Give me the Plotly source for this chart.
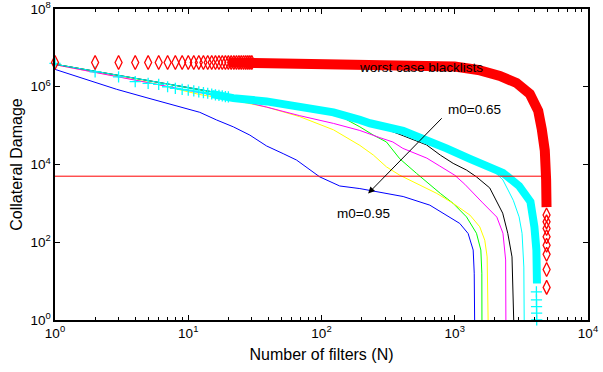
import plotly.graph_objects as go
import math

# ---------------- data ----------------
# worst case blacklists (red open diamonds)
worst_low_n = [1, 2, 3, 4, 5, 6, 7, 8, 9, 10, 11, 12, 13, 14, 15, 16, 17, 18, 19, 20,
               21, 22, 23, 24, 25, 26, 27, 28, 29, 30]
worst_low_v = [4.2e6, 4.2e6, 4.2e6, 4.2e6, 4.2e6, 4.2e6, 4.2e6, 4.2e6, 4.2e6, 4.2e6,
               4.2e6, 4.2e6, 4.2e6, 4.2e6, 4.2e6, 4.2e6, 4.2e6, 4.2e6, 4.2e6, 4.2e6,
               4.2e6, 4.2e6, 4.2e6, 4.2e6, 4.2e6, 4.2e6, 4.2e6, 4.2e6, 4.2e6, 4.2e6]
worst_band_n = [20, 50, 100, 200, 500, 1000, 1225, 1500, 2180, 2910, 3660, 4230, 4500,
                4740, 4850, 4880, 4885]
worst_band_v = [4.2e6, 4.1e6, 4.0e6, 3.9e6, 3.7e6, 3.3e6, 3.0e6, 2.7e6, 1.9e6, 1.25e6,
                6.5e5, 2.4e5, 8.0e4, 2.3e4, 4.0e3, 1.5e3, 800]
worst_tail_n = [4886, 4887, 4888, 4889, 4890, 4891, 4892, 4893]
worst_tail_v = [500, 335, 226, 138, 84, 49, 20, 6.9]

# cyan "+" series
plus_low_n = [1, 2, 3, 4, 5, 6, 7, 8, 9, 10, 11, 12, 13, 14, 15, 16, 17, 18, 19, 20]
plus_low_v = [4.0e6, 2.4e6, 1.8e6, 1.35e6, 1.22e6, 1.15e6, 1.0e6, 9.1e5, 8.6e5, 8.2e5,
              7.8e5, 7.4e5, 7.1e5, 6.8e5, 6.5e5, 6.2e5, 6.0e5, 5.8e5, 5.6e5, 5.5e5]
plus_band_n = [15, 21.8, 38.7, 68.7, 123, 194, 231, 410, 734, 867, 1300, 1730, 2300,
               3040, 3700, 3960, 4100, 4140]
plus_band_v = [6.5e5, 5.1e5, 4.2e5, 3.2e5, 2.2e5, 1.4e5, 1.15e5, 7.3e4, 3.4e4, 2.6e4,
               1.4e4, 9.7e3, 6.1e3, 2.8e3, 1.1e3, 250, 63, 8.7]
plus_tail_n = [4100, 4105, 4110, 4115, 4120]
plus_tail_v = [5.3, 3.3, 2.2, 1.5, 1.0]

# thin curves
cyan_n = [1, 20, 39, 69, 123, 194, 231, 410, 867, 1300, 1730, 2300, 2750, 3040, 3200, 3300, 3320]
cyan_v = [3.8e6, 6.5e5, 4.2e5, 3.2e5, 2.2e5, 1.4e5, 1.15e5, 7.3e4, 2.6e4, 1.4e4, 1.03e4,
          4.0e3, 1.2e3, 450, 170, 23, 1]

black_n = [1, 20, 39, 69, 123, 194, 260, 410, 614, 780, 973, 1225, 1456, 1830, 2290,
           2500, 2690, 2770]
black_v = [3.8e6, 6.3e5, 4.0e5, 3.0e5, 2.0e5, 1.3e5, 1.0e5, 5.5e4, 3.2e4, 1.74e4,
           1.07e4, 7.2e3, 4.8e3, 2.5e3, 560, 170, 42, 1]

magenta_n = [1, 5, 12.2, 21.8, 38.7, 68.7, 123, 194, 274, 343, 408, 617, 773, 1000,
             1190, 1415, 1600, 2070, 2300, 2410, 2420]
magenta_v = [3.7e6, 1.3e6, 7.0e5, 4.8e5, 3.0e5, 1.8e5, 1.14e5, 7.5e4, 4.9e4, 3.8e4,
             2.6e4, 1.46e4, 9.1e3, 5.3e3, 3.1e3, 1.73e3, 1.08e3, 443, 171, 35, 1]

green_n = [1, 20, 39, 69, 123, 150, 194, 245, 307, 387, 517, 650, 780, 973, 1225,
           1456, 1570, 1597, 1600]
green_v = [3.8e6, 6.2e5, 4.0e5, 2.9e5, 1.9e5, 1.5e5, 9.3e4, 5.7e4, 3.8e4, 1.4e4,
           5.9e3, 2.95e3, 1.8e3, 1.0e3, 450, 170, 63, 16, 1]

yellow_n = [1, 5, 12.2, 21.8, 38.7, 68.7, 123, 194, 245, 307, 387, 517, 734, 973,
            1300, 1540, 1680, 1750, 1780]
yellow_v = [3.7e6, 1.3e6, 6.3e5, 4.5e5, 3.0e5, 1.7e5, 7.8e4, 3.1e4, 1.75e4, 8.7e3,
            5.3e3, 3.2e3, 1.8e3, 1.0e3, 500, 250, 113, 42, 1]

blue_n = [1, 2.9, 4.9, 9.2, 12.2, 16.3, 21.8, 29, 38.7, 51.6, 65, 97, 137, 194, 274,
          410, 650, 870, 1090, 1260, 1375, 1400, 1410]
blue_v = [2.8e6, 8.6e5, 5.2e5, 2.8e5, 2.2e5, 1.4e5, 9.3e4, 5.7e4, 3.0e4, 1.9e4, 1.3e4,
          4.8e3, 2.8e3, 2.4e3, 1.9e3, 1.5e3, 900, 500, 305, 168, 63, 16, 1]

threshold_n = [1, 4500]
threshold_v = [5000, 5000]

x_tick_vals = [1, 10, 100, 1000, 10000]
x_tick_text = ["10<sup>0</sup>", "10<sup>1</sup>", "10<sup>2</sup>", "10<sup>3</sup>", "10<sup>4</sup>"]
y_tick_vals = [1, 1e2, 1e4, 1e6, 1e8]
y_tick_text = ["10<sup>0</sup>", "10<sup>2</sup>", "10<sup>4</sup>", "10<sup>6</sup>", "10<sup>8</sup>"]

# annotation anchor points (data coordinates)
label_worst = ("worst case blacklists", 560, 3.2e6)
label_m065 = ("m0=0.65", 1415, 2.67e5)
label_m095 = ("m0=0.95", 205, 561)
arrow_tail = (819, 1.69e5)
arrow_head = (224, 1800)

FONT = "Liberation Sans, Arial, Helvetica, sans-serif"

fig = go.Figure()

def thin(n, v, color):
    fig.add_trace(go.Scatter(x=n, y=v, mode="lines", line=dict(color=color, width=1),
                             showlegend=False, hoverinfo="skip"))

thin(blue_n, blue_v, "#0000ff")
thin(green_n, green_v, "#00ff00")
thin(yellow_n, yellow_v, "#ffff00")
thin(magenta_n, magenta_v, "#ff00ff")
thin(black_n, black_v, "#000000")
thin(cyan_n, cyan_v, "#00ffff")

# cyan + band
fig.add_trace(go.Scatter(x=plus_band_n, y=plus_band_v, mode="lines",
                         line=dict(color="#00ffff", width=8), showlegend=False,
                         hoverinfo="skip"))
fig.add_trace(go.Scatter(x=plus_low_n + plus_tail_n, y=plus_low_v + plus_tail_v,
                         mode="markers", cliponaxis=False,
                         marker=dict(symbol="cross-thin-open", size=8, color="#00ffff",
                                     line=dict(color="#00ffff", width=1.3)),
                         showlegend=False, hoverinfo="skip"))

# worst case band
fig.add_trace(go.Scatter(x=worst_band_n, y=worst_band_v, mode="lines",
                         line=dict(color="#ff0000", width=10), showlegend=False,
                         hoverinfo="skip"))
fig.add_trace(go.Scatter(x=worst_low_n + worst_tail_n, y=worst_low_v + worst_tail_v,
                         mode="markers", cliponaxis=False,
                         marker=dict(symbol="diamond-tall-open", size=10, color="#ff0000",
                                     line=dict(color="#ff0000", width=1.3)),
                         showlegend=False, hoverinfo="skip"))

# threshold line
fig.add_trace(go.Scatter(x=threshold_n, y=threshold_v, mode="lines",
                         line=dict(color="#ff0000", width=1), showlegend=False,
                         hoverinfo="skip"))

def lg(v):
    return math.log10(v)

annots = []
for txt, xn, yv in (label_worst, label_m065, label_m095):
    annots.append(dict(x=lg(xn), y=lg(yv), xref="x", yref="y", text=txt, showarrow=False,
                       font=dict(family=FONT, size=13.5, color="black"),
                       xanchor="center", yanchor="middle"))
annots.append(dict(x=lg(arrow_head[0]), y=lg(arrow_head[1]), ax=lg(arrow_tail[0]),
                   ay=lg(arrow_tail[1]), xref="x", yref="y", axref="x", ayref="y",
                   text="", showarrow=True, arrowhead=2, arrowsize=1.3, arrowwidth=1,
                   arrowcolor="black", standoff=0, startstandoff=0))

minor_x = [m * 10 ** d for d in range(4) for m in range(2, 10)]

fig.update_layout(
    width=603, height=372,
    margin=dict(l=55, r=15, t=9, b=52, autoexpand=False),
    paper_bgcolor="white", plot_bgcolor="white",
    font=dict(family=FONT, color="black"),
    annotations=annots,
    xaxis=dict(type="log", range=[0, 4], tickmode="array", tickvals=x_tick_vals,
               ticktext=x_tick_text, ticks="inside", ticklen=5, tickwidth=1,
               tickcolor="black", showline=True, linecolor="black", linewidth=1.6,
               mirror="ticks", showgrid=False, zeroline=False, automargin=False,
               ticklabeloverflow="allow",
               tickfont=dict(family=FONT, size=13.5, color="black"),
               minor=dict(tickmode="array", tickvals=minor_x, ticks="inside", ticklen=3,
                          tickwidth=1, tickcolor="black", showgrid=False),
               title=dict(text="Number of filters (N)", font=dict(family=FONT, size=16),
                          standoff=9)),
    yaxis=dict(type="log", range=[0, 8], tickmode="array", tickvals=y_tick_vals,
               ticktext=y_tick_text, ticks="inside", ticklen=5, tickwidth=1,
               tickcolor="black", showline=True, linecolor="black", linewidth=1.6,
               mirror="ticks", showgrid=False, zeroline=False, automargin=False,
               ticklabeloverflow="allow",
               tickfont=dict(family=FONT, size=13.5, color="black"),
               title=dict(text="Collateral Damage", font=dict(family=FONT, size=16),
                          standoff=4)),
)

fig.write_html("out.html",
               config={"displayModeBar": False, "staticPlot": True},
               post_script="document.body.style.margin='0px';"
                           "document.body.style.overflow='hidden';")
